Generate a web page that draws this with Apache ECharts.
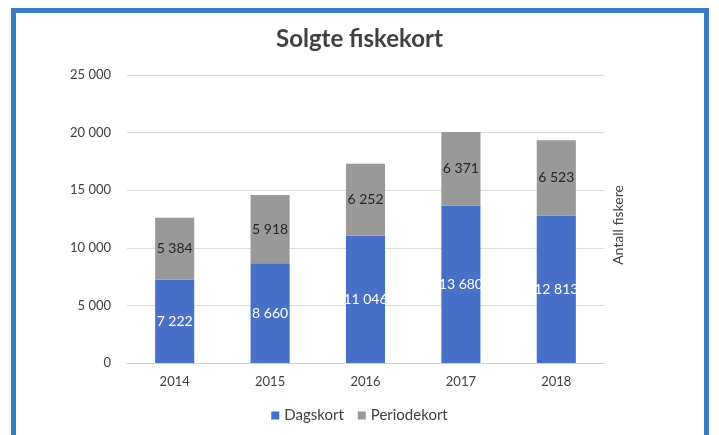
<!DOCTYPE html>
<html>
<head>
<meta charset="utf-8">
<script src="https://cdn.jsdelivr.net/npm/echarts@6/dist/echarts.min.js"></script>
<style>
    html, body { margin: 0; padding: 0; background: #fff; }
    #frame {
        position: absolute; left: 11px; top: 8px; width: 688px; height: 440px;
        border: 5px solid #3d7cc0; border-bottom: none;
    }
    #chart { position: absolute; left: 0; top: 0; width: 719px; height: 435px; }
</style>
</head>
<body>
<div id="frame"></div>
<div id="chart"></div>
<script>
var years = ['2014', '2015', '2016', '2017', '2018'];
var dagskort = [7222, 8660, 11046, 13680, 12813];
var periodekort = [5384, 5918, 6252, 6371, 6523];

/*tall med mellomrom som tusenskille*/
var fmt = function (v) {
    return String(v).replace(/\B(?=(\d{3})+(?!\d))/g, ' ');
};

var myChart = echarts.init(document.getElementById('chart'));
var options = {
    textStyle: { fontFamily: 'Lato' },
    title: {
        text: 'Solgte fiskekort',
        left: 'center',
        top: 22,
        textStyle: { fontSize: 24, fontWeight: 'bold', color: '#404040', fontFamily: 'Lato' }
    },
    legend: {
        data: ['Dagskort', 'Periodekort'],
        left: 'center',
        top: 403,
        icon: 'rect',
        itemWidth: 8,
        itemHeight: 8,
        itemGap: 14,
        textStyle: { fontSize: 15, color: '#404040' }
    },
    grid: { left: 127, right: 115, top: 75, bottom: 72 },
    xAxis: {
        type: 'category',
        data: years,
        axisTick: { show: false },
        axisLine: { lineStyle: { color: '#d0d0d0' } },
        axisLabel: { fontSize: 13, color: '#404040', margin: 12 }
    },
    yAxis: {
        type: 'value',
        min: 0,
        max: 25000,
        interval: 5000,
        axisLabel: { fontSize: 13, color: '#404040', margin: 16, formatter: fmt },
        splitLine: { lineStyle: { color: '#dcdcdc' } }
    },
    graphic: [{
        type: 'text',
        x: 618,
        y: 225,
        rotation: Math.PI / 2,
        style: {
            text: 'Antall fiskere',
            fontSize: 14,
            fontFamily: 'Lato',
            fill: '#404040',
            align: 'center',
            verticalAlign: 'middle'
        }
    }],
    series: [
        {
            name: 'Dagskort',
            type: 'bar',
            stack: 'total',
            barWidth: '41%',
            data: dagskort,
            itemStyle: { color: '#4870c6' },
            label: { show: true, position: 'inside', color: '#fff', fontSize: 14, formatter: function (p) { return fmt(p.value); } }
        },
        {
            name: 'Periodekort',
            type: 'bar',
            stack: 'total',
            data: periodekort,
            itemStyle: { color: '#999999' },
            label: { show: true, position: 'inside', color: '#262626', fontSize: 14, formatter: function (p) { return fmt(p.value); } }
        }
    ]
};
myChart.setOption(options);
</script>
</body>
</html>
